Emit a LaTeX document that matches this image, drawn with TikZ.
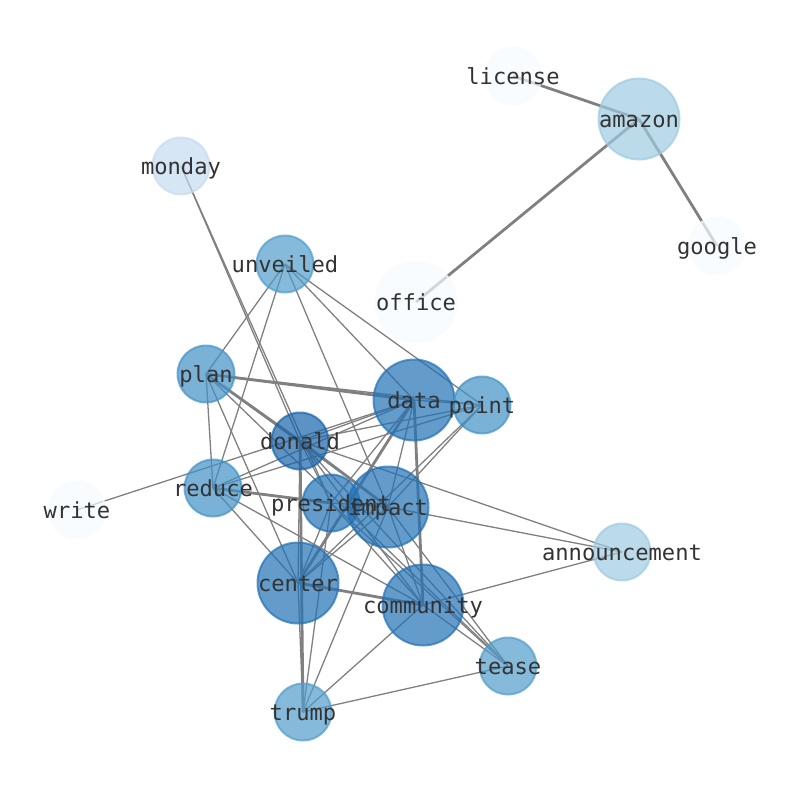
\documentclass[tikz,border=0pt]{standalone}
\usepackage{fontspec}
\newfontfamily\labelfont{DejaVu Sans Mono}
\definecolor{toneA}{HTML}{F7FBFF}
\definecolor{toneB}{HTML}{C6DBEF}
\definecolor{toneC}{HTML}{9ECAE1}
\definecolor{toneD}{HTML}{519CCC}
\definecolor{toneE}{HTML}{4292C6}
\definecolor{toneF}{HTML}{2171B5}
\definecolor{toneG}{HTML}{1764AB}
\pgfdeclarelayer{edges}
\pgfsetlayers{edges,main}
\begin{document}
\begin{tikzpicture}[x=1bp, y=-1bp,
    term/.style={circle, draw, line width=2bp, fill opacity=0.7, draw opacity=0.7, inner sep=0pt},
    termsmall/.style={term, minimum size=57bp},
    termbig/.style={term, minimum size=81bp},
    tag/.style={font=\labelfont\fontsize{22.2}{26}\selectfont, text=black!80, inner sep=0pt,
                anchor=base, yshift=-8.6bp},
    link/.style={draw=black!50, line width=1.3bp},
    heavy/.style={draw=black!50, line width=2.8bp}]
  \useasboundingbox (0,0) rectangle (794,790);
  % words
  \foreach \name/\x/\y/\size/\tone in {license/513/76/termsmall/toneA, amazon/639/119/termbig/toneC,
      monday/181/166/termsmall/toneB, google/717/246/termsmall/toneA, unveiled/285/264/termsmall/toneD,
      office/416/302/termbig/toneA, plan/206/374/termsmall/toneE, data/414/400/termbig/toneF,
      point/482/405/termsmall/toneE, donald/300/441/termsmall/toneG, reduce/213/488/termsmall/toneE,
      write/77/510/termsmall/toneA, president/331/503/termsmall/toneF, impact/388/507/termbig/toneF,
      announcement/622/552/termsmall/toneC, center/298/583/termbig/toneF, community/423/605/termbig/toneF,
      tease/508/666/termsmall/toneD, trump/303/712/termsmall/toneD}
    \node[\size, draw=\tone, fill=\tone] (\name) at (\x,\y) {};
  % co-occurrence links
  \begin{pgfonlayer}{edges}
    \foreach \a/\b in {monday/donald, monday/president, unveiled/plan, unveiled/reduce, unveiled/impact,
        unveiled/data, unveiled/point, plan/point, plan/reduce, plan/impact, plan/center, plan/tease,
        write/data, reduce/data, reduce/point, reduce/center, reduce/community,
        donald/president, donald/data, donald/point, donald/announcement, donald/community,
        donald/tease, donald/center, president/center, president/community, president/data,
        president/impact, president/tease, president/trump, impact/data, impact/point,
        impact/announcement, impact/center, impact/community, impact/tease, impact/trump,
        data/point, center/point, center/trump, community/announcement, community/trump,
        community/tease, tease/trump}
      \draw[link] (\a.center) -- (\b.center);
    \foreach \a/\b in {license/amazon, amazon/office, amazon/google, plan/donald, plan/data,
        reduce/president, donald/impact, data/community, data/center, center/community, donald/trump}
      \draw[heavy] (\a.center) -- (\b.center);
  \end{pgfonlayer}
  % labels
  \foreach \name in {license, amazon, monday, google, unveiled, office, plan, data, point, donald,
      reduce, write, president, impact, announcement, center, community, tease, trump}
    \node[tag] (\name-tag) at (\name) {\name};
\end{tikzpicture}
\end{document}
